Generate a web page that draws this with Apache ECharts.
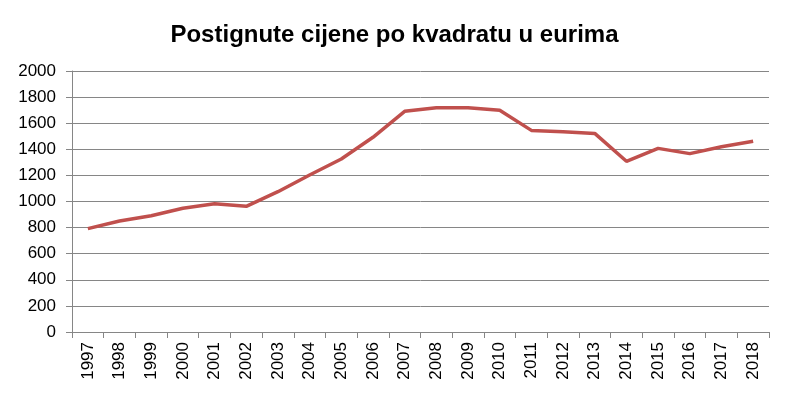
<!DOCTYPE html>
<html>
<head>
<meta charset="utf-8">
<script src="https://cdn.jsdelivr.net/npm/echarts@6/dist/echarts.min.js"></script>
<style>html,body{margin:0;padding:0;background:#fff}#c{width:789px;height:397px}</style>
</head>
<body>
<div id="c"></div>
<script>
const titleText = 'Postignute cijene po kvadratu u eurima';
const years = ['1997','1998','1999','2000','2001','2002','2003','2004','2005','2006','2007','2008','2009','2010','2011','2012','2013','2014','2015','2016','2017','2018'];
const prices = [792, 851, 891, 948, 983, 963, 1075, 1203, 1326, 1492, 1691, 1719, 1719, 1699, 1545, 1535, 1522, 1308, 1407, 1367, 1420, 1461];
const yMin = 0, yMax = 2000, yStep = 200;

const font = '"Liberation Sans Narrow", "Liberation Sans", sans-serif';
const chart = echarts.init(document.getElementById('c'));
chart.setOption({
  animation: false,
  title: {
    text: titleText, left: 'center', top: 18,
    textStyle: {fontFamily: font, fontSize: 24, fontWeight: 'bold', color: '#000'}
  },
  grid: {left: 72, right: 20, top: 71, bottom: 65, containLabel: false},
  xAxis: {
    type: 'category', data: years, boundaryGap: true,
    axisLine: {lineStyle: {color: '#868686', width: 1}},
    axisTick: {show: true, alignWithLabel: false, length: 6, lineStyle: {color: '#868686'}},
    axisLabel: {rotate: 90, interval: 0, margin: 10, fontFamily: font, fontSize: 17, color: '#000'}
  },
  yAxis: {
    type: 'value', min: yMin, max: yMax, interval: yStep,
    axisLine: {show: true, lineStyle: {color: '#868686', width: 1}},
    axisTick: {show: true, length: 6, lineStyle: {color: '#868686'}},
    splitLine: {lineStyle: {color: '#868686', width: 1}},
    axisLabel: {margin: 16, fontFamily: font, fontSize: 17, color: '#000', formatter: v => String(v)}
  },
  series: [{
    type: 'line', data: prices, symbol: 'none',
    lineStyle: {color: '#C0504D', width: 3.5}
  }]
});
</script>
</body>
</html>
